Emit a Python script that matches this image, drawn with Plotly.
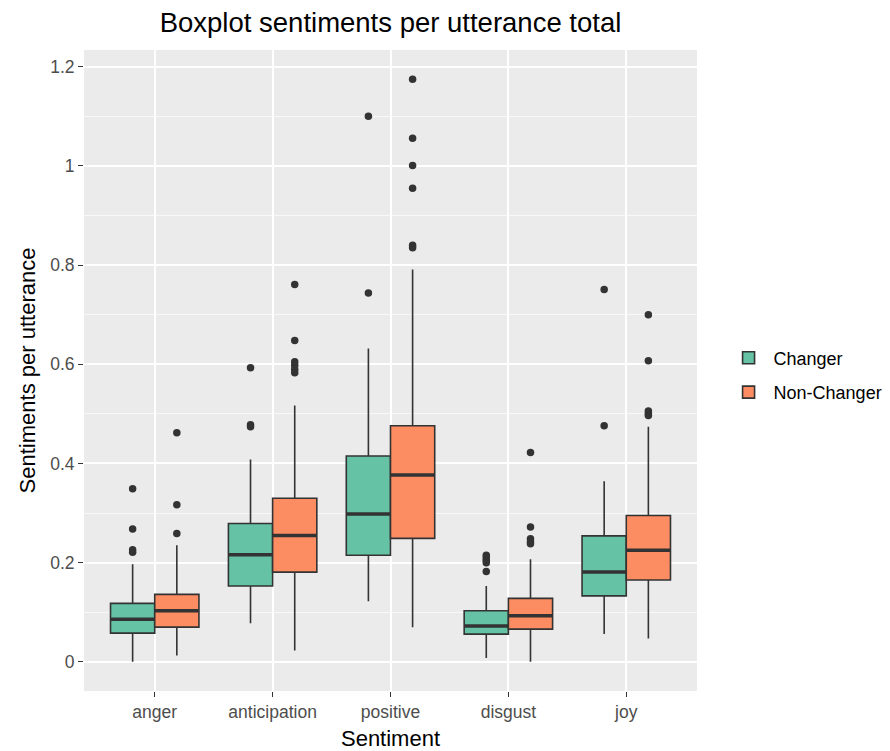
import plotly.graph_objects as go

categories = ["anger", "anticipation", "positive", "disgust", "joy"]

changer_q1 = [0.058, 0.153, 0.215, 0.056, 0.133]
changer_median = [0.086, 0.216, 0.298, 0.0725, 0.181]
changer_q3 = [0.118, 0.279, 0.415, 0.103, 0.254]
changer_lower = [0.0, 0.078, 0.122, 0.008, 0.056]
changer_upper = [0.197, 0.408, 0.632, 0.153, 0.364]
changer_out_cat = ["anger"] * 4 + ["anticipation"] * 3 + ["positive"] * 2 + ["disgust"] * 5 + ["joy"] * 2
changer_out_val = [0.349, 0.268, 0.226, 0.221,
                   0.593, 0.478, 0.474,
                   1.100, 0.744,
                   0.215, 0.210, 0.205, 0.200, 0.182,
                   0.751, 0.476]

non_q1 = [0.070, 0.181, 0.249, 0.066, 0.165]
non_median = [0.103, 0.255, 0.377, 0.093, 0.225]
non_q3 = [0.136, 0.330, 0.476, 0.128, 0.295]
non_lower = [0.013, 0.023, 0.070, 0.0, 0.047]
non_upper = [0.235, 0.517, 0.791, 0.207, 0.474]
non_out_cat = ["anger"] * 3 + ["anticipation"] * 6 + ["positive"] * 6 + ["disgust"] * 5 + ["joy"] * 5
non_out_val = [0.462, 0.317, 0.259,
               0.761, 0.648, 0.605, 0.598, 0.590, 0.583,
               1.175, 1.056, 1.001, 0.955, 0.840, 0.835,
               0.422, 0.272, 0.248, 0.242, 0.238,
               0.700, 0.607, 0.506, 0.501, 0.497]

groups = ["Changer", "Non-Changer"]
colors = ["#66C2A5", "#FC8D62"]
FONT = "Liberation Sans, Arial, sans-serif"
DARK = "#333333"

stats = [
    (changer_q1, changer_median, changer_q3, changer_lower, changer_upper, changer_out_cat, changer_out_val),
    (non_q1, non_median, non_q3, non_lower, non_upper, non_out_cat, non_out_val),
]

fig = go.Figure()
for name, col, (q1, med, q3, lo, hi, oc, ov) in zip(groups, colors, stats):
    fig.add_trace(go.Box(
        name=name, x=categories, q1=q1, median=med, q3=q3,
        lowerfence=lo, upperfence=hi, boxpoints=False,
        fillcolor=col, line=dict(color=DARK, width=1.6), whiskerwidth=0,
        offsetgroup=name, legendgroup=name, showlegend=True,
    ))
    # thick median line
    fig.add_trace(go.Box(
        name=name, x=categories, q1=med, median=med, q3=med,
        lowerfence=med, upperfence=med, boxpoints=False,
        fillcolor=col, line=dict(color=DARK, width=3.5), whiskerwidth=0,
        offsetgroup=name, legendgroup=name, showlegend=False, hoverinfo="skip",
    ))

for name, (q1, med, q3, lo, hi, oc, ov) in zip(groups, stats):
    fig.add_trace(go.Scatter(
        x=oc, y=ov, mode="markers", name=name,
        marker=dict(color=DARK, size=7.5),
        offsetgroup=name, legendgroup=name, showlegend=False,
    ))

fig.update_layout(
    width=890, height=751,
    margin=dict(l=84, r=193, t=50, b=60, autoexpand=False),
    paper_bgcolor="white", plot_bgcolor="#EBEBEB",
    boxmode="group", boxgap=0.25, boxgroupgap=0,
    scattermode="group", scattergap=0.25,
    font=dict(family=FONT, color="black"),
    title=dict(text="Boxplot sentiments per utterance total", x=0.5, xref="paper",
               xanchor="center", y=0.97, yanchor="middle",
               font=dict(size=27.5, color="black", family=FONT)),
    legend=dict(xref="container", x=0.813, xanchor="left", y=0.493, yanchor="middle",
                font=dict(size=18, color="black", family=FONT),
                itemwidth=40, tracegroupgap=8, bgcolor="rgba(0,0,0,0)"),
    showlegend=True,
)
fig.update_xaxes(
    type="category", categoryorder="array", categoryarray=categories,
    range=[-0.6, 4.6], showgrid=True, gridcolor="white", gridwidth=1.6,
    zeroline=False, ticks="outside", ticklen=5, tickcolor=DARK, tickwidth=1.2,
    tickfont=dict(size=17.5, color="#4D4D4D", family=FONT),
    title=dict(text="Sentiment", font=dict(size=22, color="black", family=FONT), standoff=9),
    showline=False,
)
fig.update_yaxes(
    range=[-0.05875, 1.23375], dtick=0.2, tick0=0,
    showgrid=True, gridcolor="white", gridwidth=1.6, zeroline=False,
    minor=dict(dtick=0.1, tick0=0, showgrid=True, gridcolor="#F8F8F8", gridwidth=0.8, ticks=""),
    ticks="outside", ticklen=5, tickcolor=DARK, tickwidth=1.2,
    tickfont=dict(size=17.5, color="#4D4D4D", family=FONT),
    title=dict(text="Sentiments per utterance", font=dict(size=22, color="black", family=FONT), standoff=8),
    showline=False,
)

fig.write_html("out.html")
